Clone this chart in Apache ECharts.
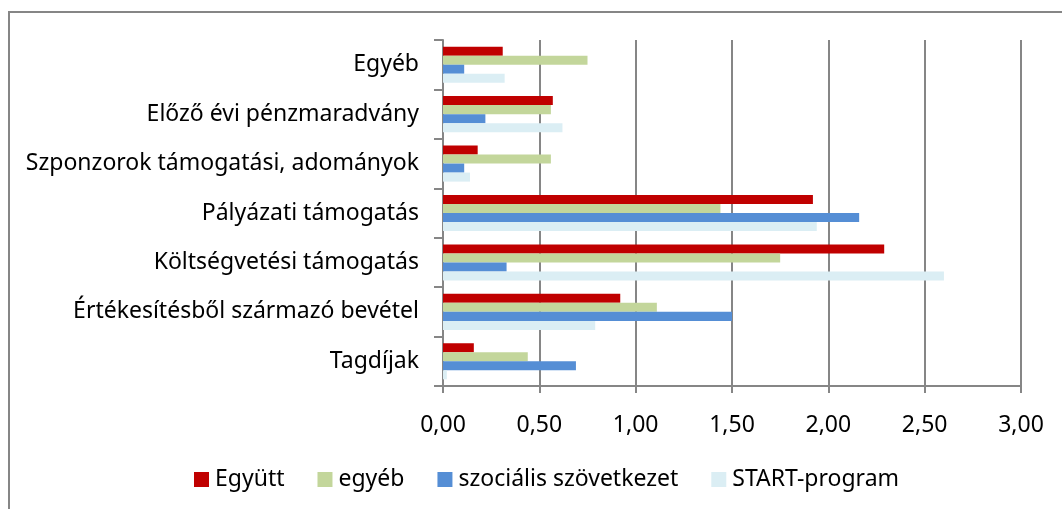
<!DOCTYPE html>
<html>
<head>
<meta charset="utf-8">
<script src="https://cdn.jsdelivr.net/npm/echarts@6/dist/echarts.min.js"></script>
<style>
  html, body { margin: 0; padding: 0; background: #fff; }
  #main { width: 1062px; height: 509px; }
</style>
</head>
<body>
<div id="main"></div>
<script>
// kategóriák felülről lefelé
var categories = ['Egyéb', 'Előző évi pénzmaradvány', 'Szponzorok támogatási, adományok',
  'Pályázati támogatás', 'Költségvetési támogatás', 'Értékesítésből származó bevétel', 'Tagdíjak'];
var seriesNames = ['Együtt', 'egyéb', 'szociális szövetkezet', 'START-program'];
var egyutt = [0.31, 0.57, 0.18, 1.92, 2.29, 0.92, 0.16];
var egyeb = [0.75, 0.56, 0.56, 1.44, 1.75, 1.11, 0.44];
var szocialis = [0.11, 0.22, 0.11, 2.16, 0.33, 1.50, 0.69];
var start = [0.32, 0.62, 0.14, 1.94, 2.60, 0.79, 0.02];
var xTicks = [0, 0.5, 1, 1.5, 2, 2.5, 3];
var colors = ['#C00000', '#C3D69B', '#558ED5', '#DBEEF4'];

var chart = echarts.init(document.getElementById('main'));
var font = "'Noto Sans', sans-serif";
var allData = [egyutt, egyeb, szocialis, start];

var option = {
  animation: false,
  color: colors,
  textStyle: { fontFamily: font },
  grid: { left: 443, right: 41, top: 40, bottom: 123, containLabel: false },
  legend: {
    left: 189,
    top: 463,
    itemWidth: 15,
    itemHeight: 15,
    itemGap: 33,
    icon: 'rect',
    textStyle: { fontSize: 23, color: '#000', fontFamily: font, padding: [0, 0, 0, 1] },
    data: seriesNames
  },
  xAxis: {
    type: 'value',
    min: xTicks[0],
    max: xTicks[xTicks.length - 1],
    interval: 0.5,
    axisLine: { show: true, lineStyle: { color: '#868686', width: 2 } },
    axisTick: { show: true, length: 7, lineStyle: { color: '#868686', width: 2 } },
    splitLine: { show: true, lineStyle: { color: '#868686', width: 2 } },
    axisLabel: {
      fontSize: 23, color: '#000', margin: 28, fontFamily: font,
      formatter: function (v) { return v.toFixed(2).replace('.', ','); }
    }
  },
  yAxis: {
    type: 'category',
    inverse: true,
    data: categories,
    axisLine: { show: true, lineStyle: { color: '#868686', width: 2 } },
    axisTick: { show: true, length: 9, lineStyle: { color: '#868686', width: 2 } },
    axisLabel: { fontSize: 23, color: '#000', margin: 24, fontFamily: font }
  },
  graphic: [
    { type: 'polyline', shape: { points: [[9, 509], [9, 12], [1062, 12]] },
      style: { stroke: '#868686', lineWidth: 2, fill: null }, silent: true }
  ],
  series: seriesNames.map(function (name, i) {
    return {
      name: name,
      type: 'bar',
      data: allData[i],
      barGap: '0%',
      barCategoryGap: '27%'
    };
  })
};
chart.setOption(option);
</script>
</body>
</html>
